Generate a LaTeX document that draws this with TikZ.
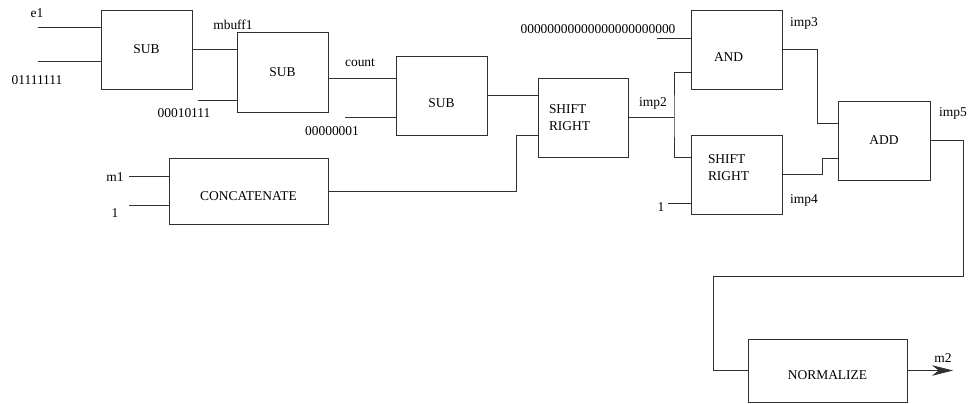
\documentclass[tikz,border=0pt]{standalone}
\usepackage{fontspec}
\setmainfont{Liberation Serif}
\usetikzlibrary{arrows.meta,calc}

\definecolor{dgLine}{HTML}{303030}
\newcommand\dgfont{\fontsize{11.5}{14.5}\selectfont}
\tikzset{
  blk/.style={
    draw=dgLine, line width=0.7pt, minimum width=#1, minimum height=2.37cm,
    inner sep=2pt, font=\dgfont},
  blk/.default=2.73cm,
  wire/.style={draw=dgLine, line width=0.7pt},
  sig/.style={font=\dgfont, inner sep=1pt},
  outarrow/.style={wire, -{Stealth[length=18pt, width=9pt]}},
}

\begin{document}
\begin{tikzpicture}[x=0.03cm, y=-0.03cm]

\useasboundingbox (0,0) rectangle (969,404);

% blocks
\node[blk] (SUB1) at (146.5,49.5) {SUB};
\node[blk, minimum height=2.4cm] (SUB2) at (282.5,72) {SUB};
\node[blk, text height=20pt, text depth=0pt] (SUB3) at (441.5,95.5) {SUB};
\node[blk=2.7cm, text width=2.04cm, align=left] (SR1) at (583,117.5) {SHIFT\\RIGHT};
\node[blk=4.77cm, minimum height=1.98cm, text height=16pt, text depth=0pt] (CAT) at (248.5,191) {CONCATENATE};
\node[blk, text width=1.35cm, align=left, text height=20pt, text depth=0pt] (AND) at (736.5,49.5) {AND};
\node[blk, text width=1.71cm, align=left, text depth=27pt] (SR2) at (736.5,174.5) {SHIFT\\RIGHT};
\node[blk=2.76cm] (ADD) at (884,140.5) {ADD};
\node[blk=4.77cm, minimum height=1.89cm, text height=15pt, text depth=0pt] (NORM) at (827.5,370.5) {NORMALIZE};

% free ends of the inputs
\coordinate (inE1) at (38,27);
\coordinate (inK1) at (38,61);
\coordinate (inK2) at (198,100);
\coordinate (inK3) at (345,117);
\coordinate (inM1) at (129,176);
\coordinate (inOne) at (129,205);
\coordinate (inZero) at (657,38);
\coordinate (inSh) at (668,203);

\foreach \c/\t in {inE1/SUB1, inK1/SUB1, inK2/SUB2, inK3/SUB3,
                   inM1/CAT, inOne/CAT, inZero/AND, inSh/SR2}
  \draw[wire] (\c) -- (\c -| \t.west);

% pins on the west sides
\coordinate (pS3) at (396,78);
\coordinate (pSR) at (538,135);
\coordinate (pA2) at (691,72);
\coordinate (pR1) at (691,157);
\coordinate (pD1) at (838,123);
\coordinate (pD2) at (838,158);
\coordinate (jImp) at (674,117.5);
\coordinate (jTurn) at (713,276);
\coordinate (outM2) at (953,370.5);

% connectors
\draw[wire] (SUB1.east) -- (SUB1.east -| SUB2.west);
\draw[wire] (pS3 -| SUB2.east) -- (pS3);
\draw[wire] (SUB3.east) -- (SUB3.east -| SR1.west);
\draw[wire] (CAT.east) -| ($(pSR)+(-22,0)$) -- (pSR);
\draw[wire] (SR1.east) -- (jImp);
\draw[wire] (pA2) -| (jImp) |- (pR1);
\draw[wire] (AND.east) -- ++(35,0) |- (pD1);
\draw[wire] (SR2.east) -- ++(40,0) |- (pD2);
\draw[wire] (ADD.east) -- ++(33,0) |- (jTurn) |- (NORM.west);
\draw[outarrow] (NORM.east) -- (outM2);

% signal names
\node[sig] (lE1) at (37,13) {e1};
\node[sig] (lK1) at (37,80) {01111111};
\node[sig] (lMb) at (233,25) {mbuff1};
\node[sig] (lK2) at (184,113) {00010111};
\node[sig] (lCnt) at (360,63) {count};
\node[sig] (lK3) at (332,131) {00000001};
\node[sig] (lM1) at (115,177) {m1};
\node[sig] (lOne) at (115,213) {1};
\node[sig] (lZero) at (598,29) {00000000000000000000000};
\node[sig] (lImp2) at (653,103) {imp2};
\node[sig] (lImp3) at (804,23) {imp3};
\node[sig] (lImp4) at (804,200) {imp4};
\node[sig] (lImp5) at (953,113) {imp5};
\node[sig] (lSh) at (661,207) {1};
\node[sig] (lM2) at (943,358) {m2};

\end{tikzpicture}
\end{document}
